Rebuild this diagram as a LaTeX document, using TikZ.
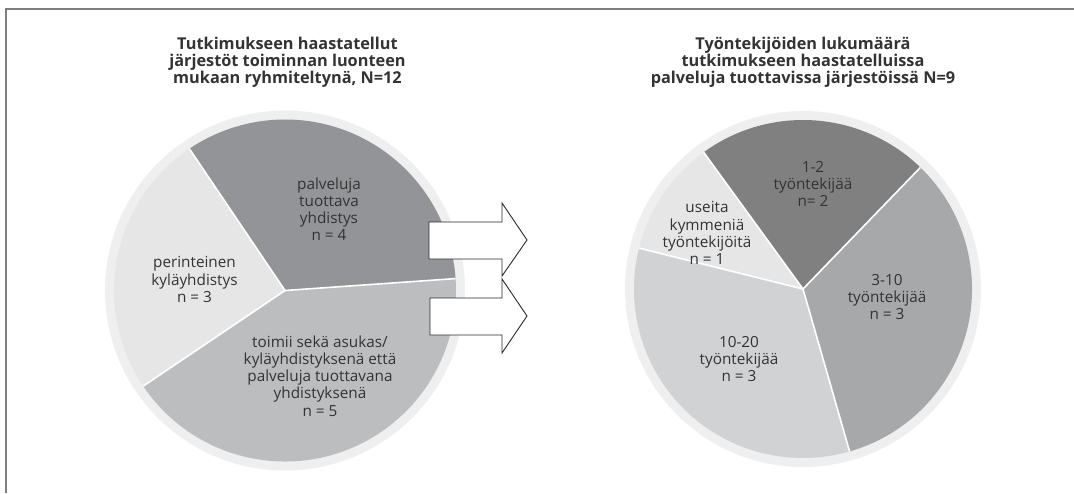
\documentclass[tikz,border=0pt]{standalone}
\usepackage{fontspec}
\setmainfont{Open Sans}
\definecolor{ringc}{HTML}{EFEFEF}
\definecolor{ldark}{HTML}{939497}
\definecolor{llight}{HTML}{E6E6E7}
\definecolor{lmed}{HTML}{BCBDBF}
\definecolor{rdark}{HTML}{808081}
\definecolor{rmed}{HTML}{A7A8AA}
\definecolor{rlight}{HTML}{D1D2D4}
\definecolor{rpale}{HTML}{E6E6E7}
\definecolor{txt}{HTML}{333333}
\definecolor{framec}{HTML}{7F7F7F}
\definecolor{arrowc}{HTML}{2A2A2A}
\begin{document}
\begin{tikzpicture}[x=1pt,y=-1pt,
  lbl/.style={align=center, text=txt, font=\fontsize{15.3}{17.2}\selectfont, inner sep=0pt},
  ttl/.style={align=center, text=txt, font=\bfseries\fontsize{16.3}{16.8}\selectfont, inner sep=0pt},
  sepline/.style={white, line width=1.6pt},
  framestyle/.style={draw=framec, line width=1.5pt},
  blockarrow/.style={fill=white, draw=arrowc, line width=0.9pt, line join=miter}]
\useasboundingbox (0,0) rectangle (1074,493);
\draw[framestyle] (6,493) -- (6,9) -- (1074,9);

% ---------- left pie ----------
\coordinate (lc) at (285,290.5);
\fill[ringc] (lc) circle[radius=180];
\fill[ldark]  (lc) -- ++(-4:171)   arc[start angle=-4,   end angle=-124, radius=171] -- cycle;
\fill[llight] (lc) -- ++(-124:171) arc[start angle=-124, end angle=-214, radius=171] -- cycle;
\fill[lmed]   (lc) -- ++(-214:171) arc[start angle=-214, end angle=-364, radius=171] -- cycle;
\draw[sepline] (lc) -- ++(-4:171);
\draw[sepline] (lc) -- ++(-124:171);
\draw[sepline] (lc) -- ++(-214:171);

% ---------- right pie ----------
\coordinate (rc) at (803,289);
\fill[ringc] (rc) circle[radius=178];
\fill[rdark]  (rc) -- ++(-46:169)  arc[start angle=-46,  end angle=-126, radius=169] -- cycle;
\fill[rpale]  (rc) -- ++(-126:169) arc[start angle=-126, end angle=-166, radius=169] -- cycle;
\fill[rlight] (rc) -- ++(-166:169) arc[start angle=-166, end angle=-286, radius=169] -- cycle;
\fill[rmed]   (rc) -- ++(-286:169) arc[start angle=-286, end angle=-406, radius=169] -- cycle;
\draw[sepline] (rc) -- ++(-46:169);
\draw[sepline] (rc) -- ++(-126:169);
\draw[sepline] (rc) -- ++(-166:169);
\draw[sepline] (rc) -- ++(-286:169);

% ---------- titles ----------
\node[ttl] (ltitle) at (287.5,62) {Tutkimukseen haastatellut\\järjestöt toiminnan luonteen\\mukaan ryhmiteltynä, N=12};
\node[ttl] (rtitle) at (803,62.5) {Työntekijöiden lukumäärä\\tutkimukseen haastatelluissa\\palveluja tuottavissa järjestöissä N=9};

% ---------- left labels ----------
\node[lbl] (l1) at (329,209) {palveluja\\tuottava\\yhdistys\\n = 4};
\node[lbl] (l2) at (194.5,279.5) {perinteinen\\kyläyhdistys\\n = 3};
\node[lbl] (l3) at (320,376) {toimii sekä asukas/\\kyläyhdistyksenä että\\palveluja tuottavana\\yhdistyksenä\\n = 5};

% ---------- right labels ----------
\node[lbl] (r1) at (813,184) {1-2\\työntekijää\\n= 2};
\node[lbl] (r2) at (707,233) {useita\\kymmeniä\\työntekijöitä\\n = 1};
\node[lbl] (r3) at (887,297) {3-10\\työntekijää\\n = 3};
\node[lbl] (r4) at (739,359) {10-20\\työntekijää\\n = 3};

% ---------- block arrows ----------
\draw[blockarrow] (429,222) -- (502,222) -- (502,203) -- (527,240) -- (502,276) -- (502,259) -- (429,259) -- cycle;
\draw[blockarrow] (430,298) -- (502,298) -- (502,279) -- (527,316) -- (502,353) -- (502,335) -- (430,335) -- cycle;
\end{tikzpicture}
\end{document}
